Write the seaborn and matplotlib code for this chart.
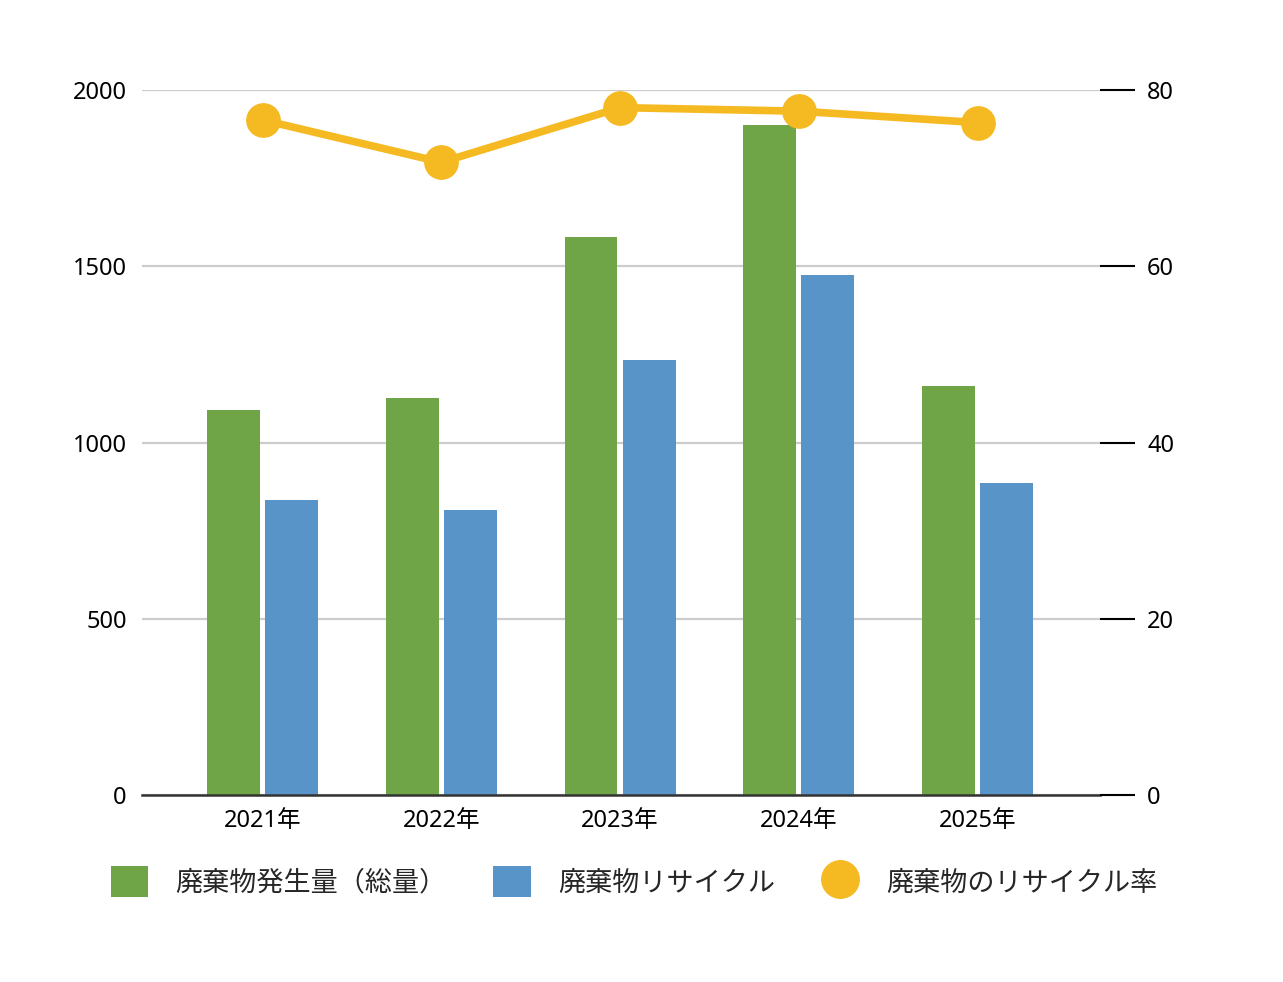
import matplotlib
matplotlib.use("Agg")
import matplotlib.pyplot as plt
import seaborn as sns
import numpy as np
import pandas as pd
from matplotlib.patches import Patch
from matplotlib.lines import Line2D

years = ["2021年", "2022年", "2023年", "2024年", "2025年"]
waste_total = [1092, 1126, 1583, 1901, 1160]
waste_recycled = [837, 808, 1234, 1475, 885]
recycle_rate = [76.6, 71.8, 78.0, 77.6, 76.3]

series_names = ["廃棄物発生量（総量）", "廃棄物リサイクル", "廃棄物のリサイクル率"]
colors = ["#70A547", "#5894C8", "#F5BA21"]

sns.set_theme(style="white")
plt.rcParams["font.family"] = ["Noto Sans", "Noto Sans CJK JP", "DejaVu Sans"]

df = pd.DataFrame({
    "year": years * 2,
    "value": waste_total + waste_recycled,
    "series": [series_names[0]] * len(years) + [series_names[1]] * len(years),
})

fig = plt.figure(figsize=(12.83, 9.82), dpi=100)
ax = fig.add_axes([142 / 1283, 1 - 795 / 982, (1100 - 142) / 1283, (795 - 90) / 982])

sns.barplot(data=df, x="year", y="value", hue="series", order=years,
            hue_order=series_names[:2], palette=colors[:2], width=0.65, gap=0.09,
            saturation=1, ax=ax, legend=False, zorder=3, linewidth=0)

ax.set_ylim(0, 2000)
ax.set_yticks([0, 500, 1000, 1500, 2000])
ax.set_xlim(-0.675, 4.685)
ax.grid(axis="y", color="#CCCCCC", linewidth=1.6, zorder=0)
ax.set_axisbelow(True)
for s in ["top", "right", "left"]:
    ax.spines[s].set_visible(False)
ax.spines["bottom"].set_color("#333333")
ax.spines["bottom"].set_linewidth(1.8)
ax.spines["bottom"].set_zorder(4)
ax.set_xlabel("")
ax.set_ylabel("")
ax.tick_params(axis="y", length=0, pad=11, labelsize=17, labelcolor="black")
ax.tick_params(axis="x", length=0, pad=10, labelsize=17, labelcolor="black")

ax2 = ax.twinx()
ax2.set_ylim(0, 80)
ax2.set_yticks([0, 20, 40, 60, 80])
for s in ["top", "right", "left", "bottom"]:
    ax2.spines[s].set_visible(False)
ax2.tick_params(axis="y", direction="out", length=25, width=1.5, color="black",
                pad=9, labelsize=17, labelcolor="black")
xpos = np.arange(len(years))
ax2.plot(xpos, recycle_rate, color=colors[2], linewidth=5.5, marker="o",
         markersize=24, clip_on=False, zorder=5)
ax2.set_xlim(-0.675, 4.685)

handles = [
    Patch(facecolor=colors[0], edgecolor="none"),
    Patch(facecolor=colors[1], edgecolor="none"),
    Line2D([], [], color=colors[2], marker="o", linestyle="none", markersize=27),
]
fig.legend(handles, series_names, loc="center", bbox_to_anchor=(0.494, 0.102),
           ncol=3, frameon=False, handlelength=1.4, handleheight=1.4,
           handletextpad=1.0, columnspacing=1.7,
           prop={"size": 19.5, "family": ["Noto Sans CJK JP", "DejaVu Sans"]})

fig.savefig("out.png", dpi=100)
